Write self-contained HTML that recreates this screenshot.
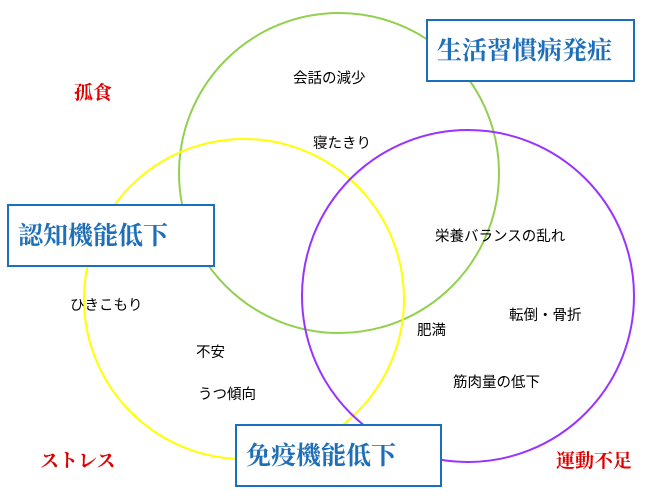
<!DOCTYPE html>
<html><head><meta charset="utf-8"><style>
html,body{margin:0;padding:0;background:#fff;}
svg{display:block;}
text{font-family:"Liberation Sans","Noto Sans CJK JP",sans-serif;}
.s{font-size:14.5px;fill:#000;}
.r{font-size:19px;fill:#e00000;font-weight:bold;font-family:"Liberation Serif","Noto Serif CJK SC",serif;}
.b{font-size:25px;fill:#1f6fb8;font-weight:bold;font-family:"Liberation Serif","Noto Serif CJK SC",serif;}
</style></head><body>
<svg width="647" height="497" viewBox="0 0 647 497">
<circle cx="339" cy="173" r="160" fill="none" stroke="#92d050" stroke-width="2"/>
<circle cx="244" cy="299" r="160" fill="none" stroke="#ffff00" stroke-width="2"/>
<circle cx="468" cy="296" r="166" fill="none" stroke="#9933ff" stroke-width="2"/>
<rect x="427" y="20" width="207" height="61" fill="#fff" stroke="#1a70bf" stroke-width="2"/>
<text class="b" x="437" y="59">生活習慣病発症</text>
<rect x="8" y="205" width="206" height="61" fill="#fff" stroke="#1a70bf" stroke-width="2"/>
<text class="b" x="18" y="244">認知機能低下</text>
<rect x="236" y="425" width="205" height="61" fill="#fff" stroke="#1a70bf" stroke-width="2"/>
<text class="b" x="246" y="464">免疫機能低下</text>
<text class="r" x="74" y="99">孤食</text>
<text class="r" x="40" y="467">ストレス</text>
<text class="r" x="556" y="467">運動不足</text>
<text class="s" x="293" y="83">会話の減少</text>
<text class="s" x="313" y="148">寝たきり</text>
<text class="s" x="435" y="241">栄養バランスの乱れ</text>
<text class="s" x="70" y="310">ひきこもり</text>
<text class="s" x="417" y="335">肥満</text>
<text class="s" x="509" y="320">転倒・骨折</text>
<text class="s" x="196" y="357">不安</text>
<text class="s" x="453" y="387">筋肉量の低下</text>
<text class="s" x="198" y="399">うつ傾向</text>
</svg>
</body></html>
